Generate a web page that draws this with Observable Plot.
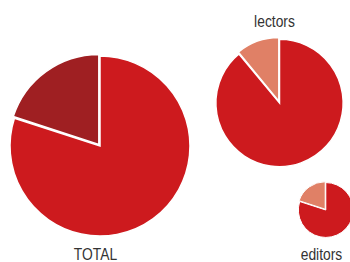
<!DOCTYPE html>
<html>
<head>
<meta charset="utf-8">
<script src="https://cdn.jsdelivr.net/npm/d3@7"></script>
<script src="https://cdn.jsdelivr.net/npm/@observablehq/plot@0.6"></script>
<style>
  html, body { margin: 0; padding: 0; background: #fff; overflow: hidden; }
  #chart svg { display: block; }
</style>
</head>
<body>
<div id="chart"></div>
<script>
// ---- data ----
const groups = ["TOTAL", "lectors", "editors"];
const groupTotals = [100, 50, 9.3];        // relative size of each pie
const mainShare = [80, 89, 80];            // % main (red) slice
const minorShare = [20, 11, 20];           // % minor slice
const minorKind = ["dark", "light", "light"];
const kinds = ["main", "dark", "light"];
const kindColors = ["#cd1a1e", "#9f1f22", "#e08066"];

// ---- layout (chart coordinates) ----
const pieCenterX = [100, 279.5, 325.8];
const pieCenterY = [146, 103, 210];
const labelX = [95, 274, 321];
const labelY = [254, 21.4, 254];

const pieRows = groups.map((g, i) => ({group: g, total: groupTotals[i], cx: pieCenterX[i], cy: pieCenterY[i]}));
const sliceRows = groups.flatMap((g, i) => [
  {group: g, kind: "main", value: mainShare[i], explode: false},
  {group: g, kind: minorKind[i], value: minorShare[i], explode: true}
]);
const labelRows = groups.map((g, i) => ({group: g, x: labelX[i], y: labelY[i]}));

function renderPies(index, scales) {
  const g = d3.create("svg:g");
  const pie = d3.pie().sort(null).value(d => d.value);
  pieRows.forEach(p => {
    const cx = scales.x(p.cx), cy = scales.y(p.cy), r = scales.r(p.total);
    const slices = sliceRows.filter(s => s.group === p.group);
    const arc = d3.arc().innerRadius(0).outerRadius(r);
    const off = r > 40 ? 2 : 1;
    const sw = r > 40 ? 1.5 : 1;
    pie(slices).forEach(a => {
      let dx = 0, dy = 0;
      if (a.data.explode) {
        const mid = (a.startAngle + a.endAngle) / 2;
        dx = Math.sin(mid) * off;
        dy = -Math.cos(mid) * off;
      }
      g.append("path")
        .attr("d", arc(a))
        .attr("transform", `translate(${cx + dx},${cy + dy})`)
        .attr("fill", scales.color(a.data.kind))
        .attr("stroke", "#fff")
        .attr("stroke-width", sw)
        .attr("stroke-linejoin", "miter");
    });
  });
  return g.node();
}

const chart = Plot.plot({
  width: 350,
  height: 262,
  margin: 0,
  x: {domain: [0, 350], range: [0, 350], axis: null},
  y: {domain: [0, 262], range: [0, 262], axis: null},
  r: {type: "sqrt", domain: [0, 100], range: [0, 90]},
  color: {domain: kinds, range: kindColors},
  style: {background: "#fff"},
  marks: [
    Plot.dot(pieRows, {x: "cx", y: "cy", r: "total", fill: "none", stroke: "none"}),
    Plot.dot(sliceRows, {x: () => 0, y: () => 0, fill: "kind", r: 0.0001, fillOpacity: 0}),
    renderPies,
    Plot.text(labelRows, {
      x: "x", y: "y", text: "group",
      fontSize: 16.5,
      fontFamily: "'Liberation Sans', Arial, sans-serif",
      fill: "#333",
      textAnchor: "middle",
      lineAnchor: "middle"
    })
  ]
});
// narrow the label glyphs horizontally (reference uses a condensed face)
d3.select(chart).selectAll("text").each(function() {
  const t = this.getAttribute("transform");
  if (t) {
    this.setAttribute("transform", t + " scale(0.84,1)");
  } else {
    const x = +this.getAttribute("x") || 0, y = +this.getAttribute("y") || 0;
    this.removeAttribute("x"); this.removeAttribute("y");
    this.setAttribute("transform", `translate(${x},${y}) scale(0.84,1)`);
  }
});
document.getElementById("chart").appendChild(chart);
</script>
</body>
</html>
